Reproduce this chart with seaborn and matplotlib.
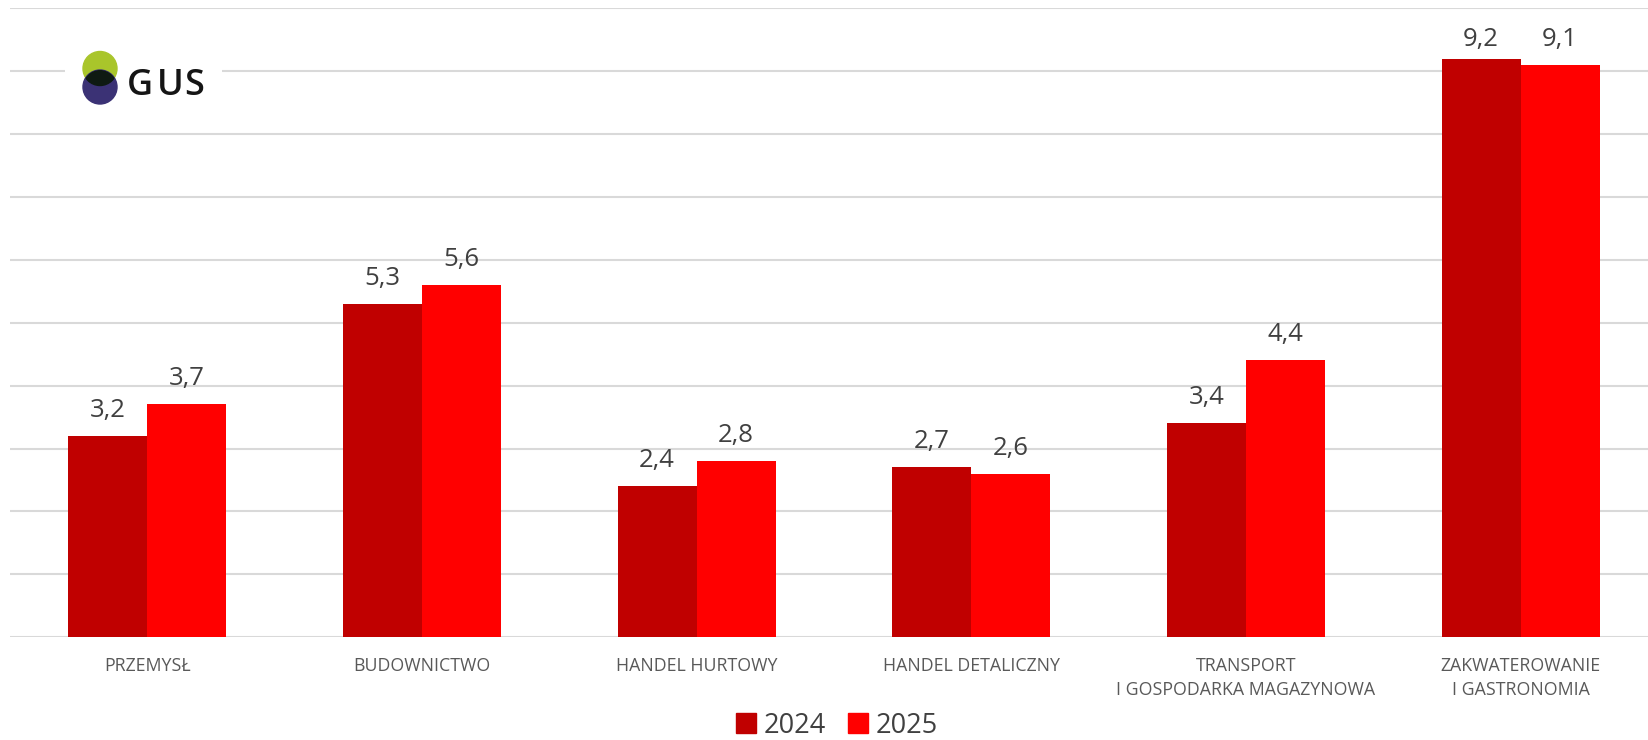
import pandas as pd
import seaborn as sns
import matplotlib.pyplot as plt
from matplotlib.lines import Line2D
from matplotlib.patches import Circle, Rectangle

# Data
categories = ["PRZEMYSŁ", "BUDOWNICTWO", "HANDEL HURTOWY", "HANDEL DETALICZNY",
              "TRANSPORT\nI GOSPODARKA MAGAZYNOWA", "ZAKWATEROWANIE\nI GASTRONOMIA"]
values_2024 = [3.2, 5.3, 2.4, 2.7, 3.4, 9.2]
values_2025 = [3.7, 5.6, 2.8, 2.6, 4.4, 9.1]
years = ["2024", "2025"]
colors = {"2024": "#C00000", "2025": "#FF0000"}

df = pd.DataFrame({
    "category": categories * 2,
    "year": [years[0]] * len(categories) + [years[1]] * len(categories),
    "value": values_2024 + values_2025,
})

sns.set_style("white")
plt.rcParams['font.family'] = ['Open Sans', 'DejaVu Sans']

fig = plt.figure(figsize=(16.48, 7.4), dpi=100)
ax = fig.add_axes([0.006, 0.139, 1.0, 0.8497])

sns.barplot(data=df, x="category", y="value", hue="year", order=categories,
            hue_order=years, palette=colors, width=0.575, gap=0,
            saturation=1, legend=False, linewidth=0, edgecolor="none", ax=ax)

# value labels: baseline ~19 px above the bar, but never above the top label row
px_per_unit = 62.9
for container in ax.containers:
    texts = ax.bar_label(container,
                         labels=[f"{v:.1f}".replace(".", ",") for v in container.datavalues],
                         fontsize=18.5, color="#404040")
    for t, v in zip(texts, container.datavalues):
        gap_px = min(19, (9.4 - v) * px_per_unit)
        t.set_va("baseline")
        t.xyann = (0, gap_px * 0.72)

ax.set_ylim(0, 10)
ax.set_xlim(-0.5, len(categories) - 0.5)
ax.set_yticks(range(0, 11))
ax.set_yticklabels([])
ax.tick_params(axis="y", length=0)
ax.tick_params(axis="x", length=0, pad=14, labelsize=12.8, labelcolor="#595959")
for lbl in ax.get_xticklabels():
    lbl.set_linespacing(1.45)
ax.grid(axis="y", color="#D9D9D9", linewidth=1.5)
ax.set_axisbelow(True)
ax.set_xlabel("")
ax.set_ylabel("")
for s in ax.spines.values():
    s.set_visible(False)

# legend
handles = [Line2D([], [], marker="s", linestyle="", markersize=14,
                  color=colors[y]) for y in years]
fig.legend(handles, years, loc="center", bbox_to_anchor=(0.5025, 0.019),
           ncol=2, frameon=False, fontsize=19.5, handletextpad=-0.35,
           columnspacing=0.2, labelcolor="#404040", borderpad=0)

# GUS logo
lax = fig.add_axes([65 / 1648, 1 - 110 / 740, 157 / 1648, 80 / 740])
lax.set_xlim(0, 157)
lax.set_ylim(80, 0)
lax.set_aspect("equal")
lax.axis("off")
lax.add_patch(Rectangle((0, 0), 157, 80, color="white"))
lax.add_patch(Circle((35, 38.5), 17, color="#A9C52B"))
lax.add_patch(Circle((35, 57), 17, color="#3B3275"))
lax.add_patch(Circle((35, 38.5), 17, color="#0E1A12",
                     clip_path=Circle((35, 57), 17, transform=lax.transData)))
for letter, lx in zip("GUS", [62, 92, 119]):
    lax.text(lx, 65, letter, fontsize=26, fontweight="semibold", color="#151515",
             va="baseline", ha="left", family=["Open Sans", "DejaVu Sans"])

fig.savefig("out.png", dpi=100)
